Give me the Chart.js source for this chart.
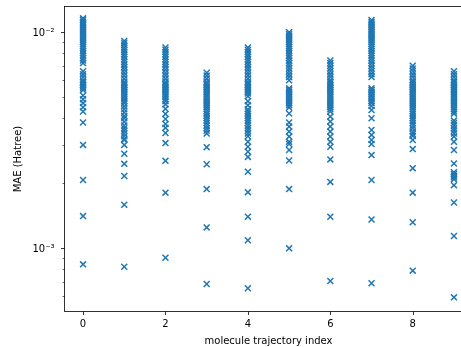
<!DOCTYPE html>
<html>
<head>
<meta charset="utf-8">
<script src="https://cdn.jsdelivr.net/npm/chart.js@4"></script>
<style>
  html, body { margin: 0; padding: 0; background: #fff; overflow: hidden; }
  #wrap { width: 461px; height: 347px; overflow: hidden; }
</style>
</head>
<body>
<div id="wrap"><canvas id="chart" width="480" height="347"></canvas></div>
<script>
// MAE per frame, one array per molecule trajectory
const traj0 = [0.0116, 0.0114, 0.0112, 0.0110, 0.0108, 0.0106, 0.0104, 0.0102, 0.0100, 0.0098, 0.0096, 0.0094,
  0.0092, 0.0090, 0.0088, 0.0086, 0.0084, 0.0082, 0.0080, 0.0078, 0.0076, 0.0074, 0.0072, 0.0066, 0.0064, 0.0062,
  0.0060, 0.0059, 0.0058, 0.0057, 0.0056, 0.0055, 0.0054, 0.0051, 0.0049, 0.0047, 0.0045, 0.0043,
  0.00382, 0.00301, 0.00207, 0.00141, 0.000843];
const traj1 = [0.0091, 0.0089, 0.0087, 0.0085, 0.0083, 0.0081, 0.0079, 0.0077, 0.0075, 0.0073, 0.0071, 0.0069,
  0.0067, 0.0065, 0.0063, 0.0061, 0.0059, 0.0058, 0.0057, 0.0056, 0.0055, 0.0054, 0.0053, 0.0052, 0.0051, 0.0050,
  0.0049, 0.0048, 0.0047, 0.00455, 0.0044, 0.00425, 0.0041, 0.0040, 0.00385, 0.0037, 0.0036, 0.0035, 0.0034,
  0.0033, 0.0032, 0.00317, 0.00301, 0.00274, 0.00246, 0.00216, 0.00159, 0.000822];
const traj2 = [0.0085, 0.0083, 0.0081, 0.0079, 0.0077, 0.0075, 0.0073, 0.0071, 0.0069, 0.0067, 0.0065, 0.0063,
  0.0061, 0.0059, 0.0058, 0.0057, 0.0056, 0.0055, 0.0054, 0.0053, 0.0052, 0.0051, 0.0050, 0.0049, 0.0048,
  0.00464, 0.00442, 0.00419, 0.00397, 0.00376, 0.00361, 0.00342, 0.00307, 0.00254, 0.00181, 0.000905];
const traj3 = [0.0065, 0.0063, 0.0061, 0.0059, 0.0058, 0.0057, 0.0056, 0.0055, 0.0054, 0.0053, 0.0052, 0.0051,
  0.0050, 0.0049, 0.0048, 0.0047, 0.0046, 0.0045, 0.0044, 0.0043, 0.0042, 0.0041, 0.0040, 0.0039, 0.0038,
  0.0037, 0.0036, 0.0035, 0.0034, 0.00294, 0.00245, 0.00188, 0.00125, 0.000684];
const traj4 = [0.0085, 0.0083, 0.0081, 0.0079, 0.0077, 0.0075, 0.0073, 0.0071, 0.0069, 0.0067, 0.0065, 0.0063,
  0.0061, 0.0059, 0.0058, 0.0057, 0.0056, 0.0055, 0.0054, 0.0053, 0.0052, 0.00505, 0.0048, 0.0046, 0.0044,
  0.0043, 0.0042, 0.0041, 0.0040, 0.0039, 0.0038, 0.0037, 0.0036, 0.0035, 0.0034, 0.0033, 0.00311, 0.00295,
  0.0028, 0.00265, 0.00226, 0.00182, 0.0014, 0.00109, 0.000653];
const traj5 = [0.0100, 0.0098, 0.0096, 0.0094, 0.0092, 0.0090, 0.0088, 0.0086, 0.0084, 0.0082, 0.0080, 0.0078,
  0.0076, 0.0074, 0.0072, 0.0070, 0.0068, 0.0066, 0.0064, 0.0062, 0.0060, 0.0055, 0.0054, 0.0053, 0.0052,
  0.0051, 0.0050, 0.0049, 0.0048, 0.0047, 0.0046, 0.00448, 0.00421, 0.00382, 0.00366, 0.00347, 0.00329,
  0.00311, 0.00304, 0.00285, 0.00255, 0.00188, 0.00100];
const traj6 = [0.0074, 0.0072, 0.0070, 0.0068, 0.0066, 0.0064, 0.0062, 0.0060, 0.0059, 0.0058, 0.0057, 0.0056,
  0.0055, 0.0054, 0.0053, 0.0052, 0.0051, 0.0050, 0.0049, 0.0048, 0.0047, 0.0046, 0.0045, 0.0044, 0.0043,
  0.00407, 0.00386, 0.00366, 0.00347, 0.00329, 0.00311, 0.00295, 0.00258, 0.00203, 0.0014, 0.000706];
const traj7 = [0.0114, 0.0112, 0.0110, 0.0108, 0.0106, 0.0104, 0.0102, 0.0100, 0.0098, 0.0096, 0.0094, 0.0092,
  0.0090, 0.0088, 0.0086, 0.0084, 0.0082, 0.0080, 0.0078, 0.0076, 0.0074, 0.0072, 0.0070, 0.0068, 0.0066,
  0.0064, 0.0062, 0.0055, 0.0054, 0.0053, 0.0052, 0.0051, 0.0050, 0.0049, 0.0048, 0.0047, 0.00456, 0.00437,
  0.0040, 0.00353, 0.00335, 0.00317, 0.00304, 0.0027, 0.00207, 0.00136, 0.000689];
const traj8 = [0.0070, 0.0068, 0.0066, 0.0064, 0.0062, 0.0060, 0.0059, 0.0058, 0.0057, 0.0056, 0.0055, 0.0054,
  0.0053, 0.0052, 0.0051, 0.0050, 0.0049, 0.0048, 0.0047, 0.0046, 0.0045, 0.0044, 0.0043, 0.0042, 0.0041,
  0.0040, 0.0039, 0.0038, 0.0037, 0.0036, 0.00347, 0.00338, 0.00331, 0.00317, 0.00288, 0.00235, 0.00181,
  0.00132, 0.000788];
const traj9 = [0.0066, 0.0064, 0.0062, 0.0060, 0.0059, 0.0058, 0.0057, 0.0056, 0.0055, 0.0054, 0.0053, 0.0052,
  0.0051, 0.0050, 0.0049, 0.0048, 0.0047, 0.0046, 0.0045, 0.0044, 0.0043, 0.0042, 0.0039, 0.0038, 0.0037,
  0.0036, 0.0035, 0.0034, 0.00329, 0.00311, 0.00285, 0.00247, 0.00225, 0.00221, 0.00217, 0.00213, 0.00209,
  0.00196, 0.00163, 0.00114, 0.000593];

const trajectories = [traj0, traj1, traj2, traj3, traj4, traj5, traj6, traj7, traj8, traj9];

const X_TICKS       = [0, 2, 4, 6, 8];
const Y_MAJOR_TICKS = [1e-3, 1e-2];
const Y_MINOR_TICKS = [6e-4, 7e-4, 8e-4, 9e-4, 2e-3, 3e-3, 4e-3, 5e-3, 6e-3, 7e-3, 8e-3, 9e-3];
const Y_LABELS      = { '0.001': '10\u207B\u00B3', '0.01': '10\u207B\u00B2' };

const BLUE = '#1f77b4';
const FONT = { family: "'DejaVu Sans'", size: 10 };

const points = [];
trajectories.forEach((vals, i) => vals.forEach((v) => points.push({ x: i, y: v })));

// matplotlib-like frame and tick marks
const framePlugin = {
    id: 'frame',
    afterDraw(chart) {
        const { ctx, chartArea: a, scales: { x, y } } = chart;
        ctx.save();
        ctx.strokeStyle = '#000';
        ctx.lineWidth = 0.8;
        ctx.strokeRect(a.left, a.top, a.right - a.left, a.bottom - a.top);
        ctx.beginPath();
        X_TICKS.forEach((v) => {
            const px = Math.round(x.getPixelForValue(v)) + 0.5;
            ctx.moveTo(px, a.bottom);
            ctx.lineTo(px, a.bottom + 3.5);
        });
        Y_MAJOR_TICKS.forEach((v) => {
            const py = Math.round(y.getPixelForValue(v)) + 0.5;
            ctx.moveTo(a.left, py);
            ctx.lineTo(a.left - 3.5, py);
        });
        ctx.stroke();
        ctx.lineWidth = 0.6;
        ctx.beginPath();
        Y_MINOR_TICKS.forEach((v) => {
            const py = Math.round(y.getPixelForValue(v)) + 0.5;
            ctx.moveTo(a.left, py);
            ctx.lineTo(a.left - 2, py);
        });
        ctx.stroke();
        ctx.restore();
    }
};

Chart.defaults.color = '#000';
Chart.defaults.font.family = FONT.family;
Chart.defaults.font.size = FONT.size;

new Chart(document.getElementById('chart').getContext('2d'), {
    type: 'scatter',
    data: {
        datasets: [{
            data: points,
            pointStyle: 'crossRot',
            radius: 4.2,
            borderWidth: 1.5,
            borderColor: BLUE,
            backgroundColor: BLUE
        }]
    },
    options: {
        responsive: false,
        animation: false,
        devicePixelRatio: 1,
        layout: { padding: { left: 0, top: 6.5, right: 7.5, bottom: 0 } },
        plugins: { legend: { display: false }, tooltip: { enabled: false } },
        scales: {
            x: {
                type: 'linear',
                min: -0.45,
                max: 9.45,
                grid: { display: false, drawTicks: true, tickLength: 3.5 },
                border: { display: false },
                ticks: { padding: 3.5, font: FONT, maxRotation: 0 },
                afterBuildTicks: (scale) => { scale.ticks = X_TICKS.map((v) => ({ value: v })); },
                afterFit: (scale) => {
                    scale.height = 35.5;
                    scale.paddingLeft = 0;
                    scale.paddingRight = 0;
                },
                title: { display: true, text: 'molecule trajectory index', font: FONT, padding: { top: 0, bottom: 0 } }
            },
            y: {
                type: 'logarithmic',
                min: 5.1e-4,
                max: 0.01316,
                grid: { display: false, drawTicks: true, tickLength: 3.5 },
                border: { display: false },
                ticks: {
                    padding: 6.5,
                    labelOffset: 1,
                    font: FONT,
                    autoSkip: false,
                    callback: (v) => Y_LABELS[String(v)] || ''
                },
                afterBuildTicks: (scale) => { scale.ticks = Y_MAJOR_TICKS.map((v) => ({ value: v })); },
                afterFit: (scale) => {
                    scale.width = 64.5;
                    scale.paddingTop = 0;
                    scale.paddingBottom = 0;
                },
                title: { display: true, text: 'MAE (Hatree)', font: FONT, padding: { top: 12, bottom: 0 } }
            }
        }
    },
    plugins: [framePlugin]
});
</script>
</body>
</html>
